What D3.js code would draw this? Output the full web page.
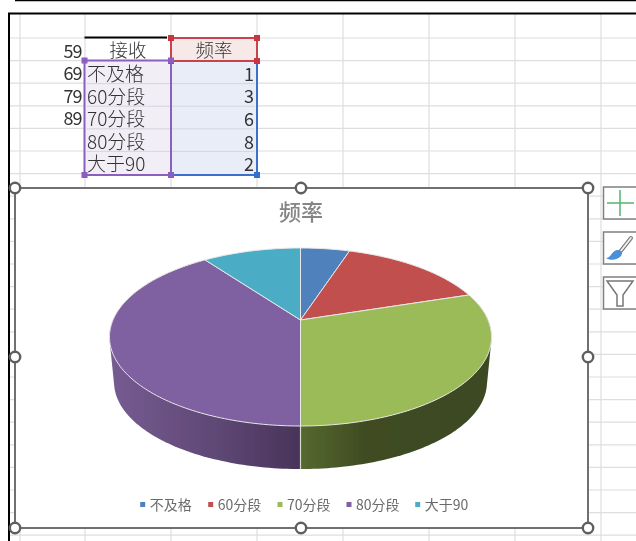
<!DOCTYPE html>
<html><head><meta charset="utf-8">
<style>html,body{margin:0;padding:0;background:#fff;overflow:hidden}svg{display:block}
text{font-family:"Noto Sans CJK SC","Liberation Sans",sans-serif}</style>
<script src="https://cdn.jsdelivr.net/npm/d3@7"></script></head><body>
<script>
const scores=[59,69,79,89];
const headerLabel="接收", headerValue="频率", chartTitle="频率";
const categories=["不及格","60分段","70分段","80分段","大于90"];
const frequencies=[1,3,6,8,2];
const colors=["#4f81bd","#c0504d","#9bbb59","#7f60a0","#4bacc6"];
const colX=[20,85,171,257,343,429,515,601];
const rowY=d3.range(0,24).map(i=>38+i*22.6);
const W=636,H=541;
const svg=d3.select("body").append("svg").attr("width",W).attr("height",H);
const defs=svg.append("defs");
defs.append("filter").attr("id","soft").attr("x","-5%").attr("y","-5%").attr("width","110%").attr("height","110%")
  .append("feGaussianBlur").attr("stdDeviation",0.35);
const root=svg.append("g").attr("filter","url(#soft)");
// sheet grid
root.append("g").selectAll("line").data(colX).join("line").attr("x1",d=>d).attr("x2",d=>d).attr("y1",14).attr("y2",H).attr("stroke","#dedede").attr("stroke-width",1.2);
root.append("g").selectAll("line").data(rowY).join("line").attr("x1",9).attr("x2",W).attr("y1",d=>d).attr("y2",d=>d).attr("stroke","#dedede").attr("stroke-width",1.2);
// window borders
root.append("line").attr("x1",15).attr("x2",W).attr("y1",0.5).attr("y2",0.5).attr("stroke","#000").attr("stroke-width",1.5);
root.append("path").attr("d",`M9,${H}V13.5H${W}`).attr("fill","none").attr("stroke","#000").attr("stroke-width",2);
// selected ranges
const rowTop=61,rowH=22.6;
const xA=84.5,xB=171,xC=257;
root.append("rect").attr("x",xA).attr("y",rowTop).attr("width",xB-xA).attr("height",114).attr("fill","#f1eef6");
root.append("rect").attr("x",xB).attr("y",rowTop).attr("width",xC-xB).attr("height",114).attr("fill","#e9edf7");
root.append("rect").attr("x",xB).attr("y",38).attr("width",xC-xB).attr("height",23).attr("fill","#f8e9e9");
root.append("g").selectAll("line").data(d3.range(1,5)).join("line").attr("x1",xA+2).attr("x2",xC-2).attr("y1",d=>rowTop+d*rowH).attr("y2",d=>rowTop+d*rowH).attr("stroke","#d6d6de").attr("stroke-width",1);
root.append("line").attr("x1",xA).attr("x2",xB-4).attr("y1",37.5).attr("y2",37.5).attr("stroke","#000").attr("stroke-width",2);
const box=(x,y,w,h,c)=>root.append("rect").attr("x",x).attr("y",y).attr("width",w).attr("height",h).attr("fill","none").attr("stroke",c).attr("stroke-width",2);
box(xB,61,xC-xB,114,"#3a70cf");
box(xB,38,xC-xB,23,"#c9434f");
box(xA,60.5,xB-xA,114.5,"#8a5fc0");
const handle=(x,y,c)=>root.append("rect").attr("x",x-3).attr("y",y-3).attr("width",6).attr("height",6).attr("fill",c);
handle(xC,175,"#2f6fd6");
[[xB,38],[xC,38],[xB,61],[xC,61]].forEach(p=>handle(p[0],p[1],"#c9343f"));
[[xA,60.5],[xB,60.5],[xA,175],[xB,175]].forEach(p=>handle(p[0],p[1],"#8a5fc0"));
// cell text
const cell=root.append("g").attr("fill","#333").attr("font-size",18);
const rowBase=[58,80,103,125];
cell.selectAll(".s").data(scores).join("text").attr("x",81.5).attr("y",(d,i)=>rowBase[i]).attr("text-anchor","end").attr("letter-spacing",-1).attr("font-family","Liberation Sans").text(d=>d);
cell.append("text").attr("x",128).attr("y",57).attr("text-anchor","middle").attr("font-size",18.5).attr("font-weight",300).text(headerLabel);
cell.append("text").attr("x",214).attr("y",57).attr("text-anchor","middle").attr("font-size",18.5).attr("font-weight",300).text(headerValue);
cell.selectAll(".c").data(categories).join("text").attr("x",87).attr("y",(d,i)=>81+i*rowH).attr("font-size",19).attr("font-weight",300).attr("letter-spacing",0).text(d=>d);
cell.selectAll(".v").data(frequencies).join("text").attr("x",254).attr("y",(d,i)=>81+i*rowH-(i?0.2:0)).attr("text-anchor","end").attr("font-family","Liberation Sans").text(d=>d);
// chart area
root.append("rect").attr("x",15).attr("y",188).attr("width",573).attr("height",340).attr("fill","#fff");
root.append("text").attr("x",301).attr("y",220).attr("text-anchor","middle").attr("font-size",22).attr("font-weight",500).attr("fill","#858585").text(chartTitle);
// perspective pie
const cx=300.5;
const persp=0.191;
function projector(a,b,y0){return t=>{const u=Math.sin(t),v=-Math.cos(t),s=1/(1-persp*v);return [cx+a*u*s,y0+b*v*s];};}
const topRim=projector(187.5,85.75,320), botRim=projector(183,83.6,365.7);
const arcs=d3.pie().sort(null).value(d=>d)(frequencies);
const line=d3.line();
const samples=(a0,a1)=>{const n=Math.max(2,Math.ceil((a1-a0)/0.02));return d3.range(n+1).map(i=>a0+(a1-a0)*i/n);};
const grad=(id,x1,x2,stops)=>{const g=defs.append("linearGradient").attr("id",id).attr("gradientUnits","userSpaceOnUse").attr("x1",x1).attr("x2",x2).attr("y1",0).attr("y2",0);
  stops.forEach(s=>g.append("stop").attr("offset",s[0]).attr("stop-color",s[1]));};
grad("wall2",300,490,[[0,"#56692f"],[0.35,"#3f4b21"],[1,"#3d4a20"]]);
grad("wall3",112,300,[[0,"#765b91"],[0.5,"#614a78"],[1,"#49345a"]]);
const pie=root.append("g");
[2,3].forEach(i=>{const a=arcs[i],ts=samples(a.startAngle,a.endAngle);
  const hull=d3.polygonHull(ts.map(topRim).concat(ts.map(botRim)));
  pie.append("path").attr("d",line(hull)+"Z").attr("fill",`url(#wall${i})`);});
pie.append("line").attr("x1",topRim(Math.PI)[0]).attr("x2",botRim(Math.PI)[0]).attr("y1",topRim(Math.PI)[1]).attr("y2",botRim(Math.PI)[1]).attr("stroke","#d5d8cf").attr("stroke-width",1.2);
pie.selectAll(".slice").data(arcs).join("path")
  .attr("d",a=>line([[cx,320]].concat(samples(a.startAngle,a.endAngle).map(topRim)))+"Z")
  .attr("fill",(a,i)=>colors[i]).attr("stroke","#e8e8e8").attr("stroke-width",1).attr("stroke-linejoin","round");
// legend
const legendX=[142.7,210.7,280,349,417.7];
const legend=root.append("g").selectAll("g").data(categories).join("g").attr("transform",(d,i)=>`translate(${legendX[i]},504.5)`);
legend.append("rect").attr("x",-2.5).attr("y",-2.5).attr("width",5).attr("height",5).attr("fill",(d,i)=>colors[i]);
legend.append("text").attr("x",7).attr("y",5).attr("font-size",14).attr("fill","#6b6b6b").text(d=>d);
// chart frame and handles
root.append("rect").attr("x",15).attr("y",188).attr("width",573).attr("height",340).attr("fill","none").attr("stroke","#707070").attr("stroke-width",2);
const hx=[15,301,588],hy=[188,357,528];
const hs=[];hx.forEach(x=>hy.forEach(y=>{if(!(x===301&&y===357))hs.push([x,y]);}));
root.append("g").selectAll("circle").data(hs).join("circle").attr("cx",d=>d[0]).attr("cy",d=>d[1]).attr("r",5.2).attr("fill","#fff").attr("stroke","#5f5f5f").attr("stroke-width",2.4);
// side buttons
const btnY=[187,232,277];
root.append("g").selectAll("rect").data(btnY).join("rect").attr("x",603.5).attr("y",d=>d).attr("width",34).attr("height",32).attr("fill","#fff").attr("stroke","#808080").attr("stroke-width",1.5);
root.append("path").attr("d","M620,190V216M607,203H634").attr("stroke","#55b56f").attr("stroke-width",1.5).attr("fill","none");
root.append("path").attr("d","M620,252L631,238").attr("stroke","#777").attr("stroke-width",4).attr("stroke-linecap","round");
root.append("path").attr("d","M620,252L631,238").attr("stroke","#f2f2f2").attr("stroke-width",1.8).attr("stroke-linecap","round");
root.append("path").attr("d","M606,258C611,258 612,250 618,250C622,250 623,253 621,256C618,260 610,261 606,258Z").attr("fill","#4a90d9");
root.append("path").attr("d","M607,281H633L623,295V306H617V295Z").attr("fill","#fff").attr("stroke","#777").attr("stroke-width",1.5);
</script></body></html>
